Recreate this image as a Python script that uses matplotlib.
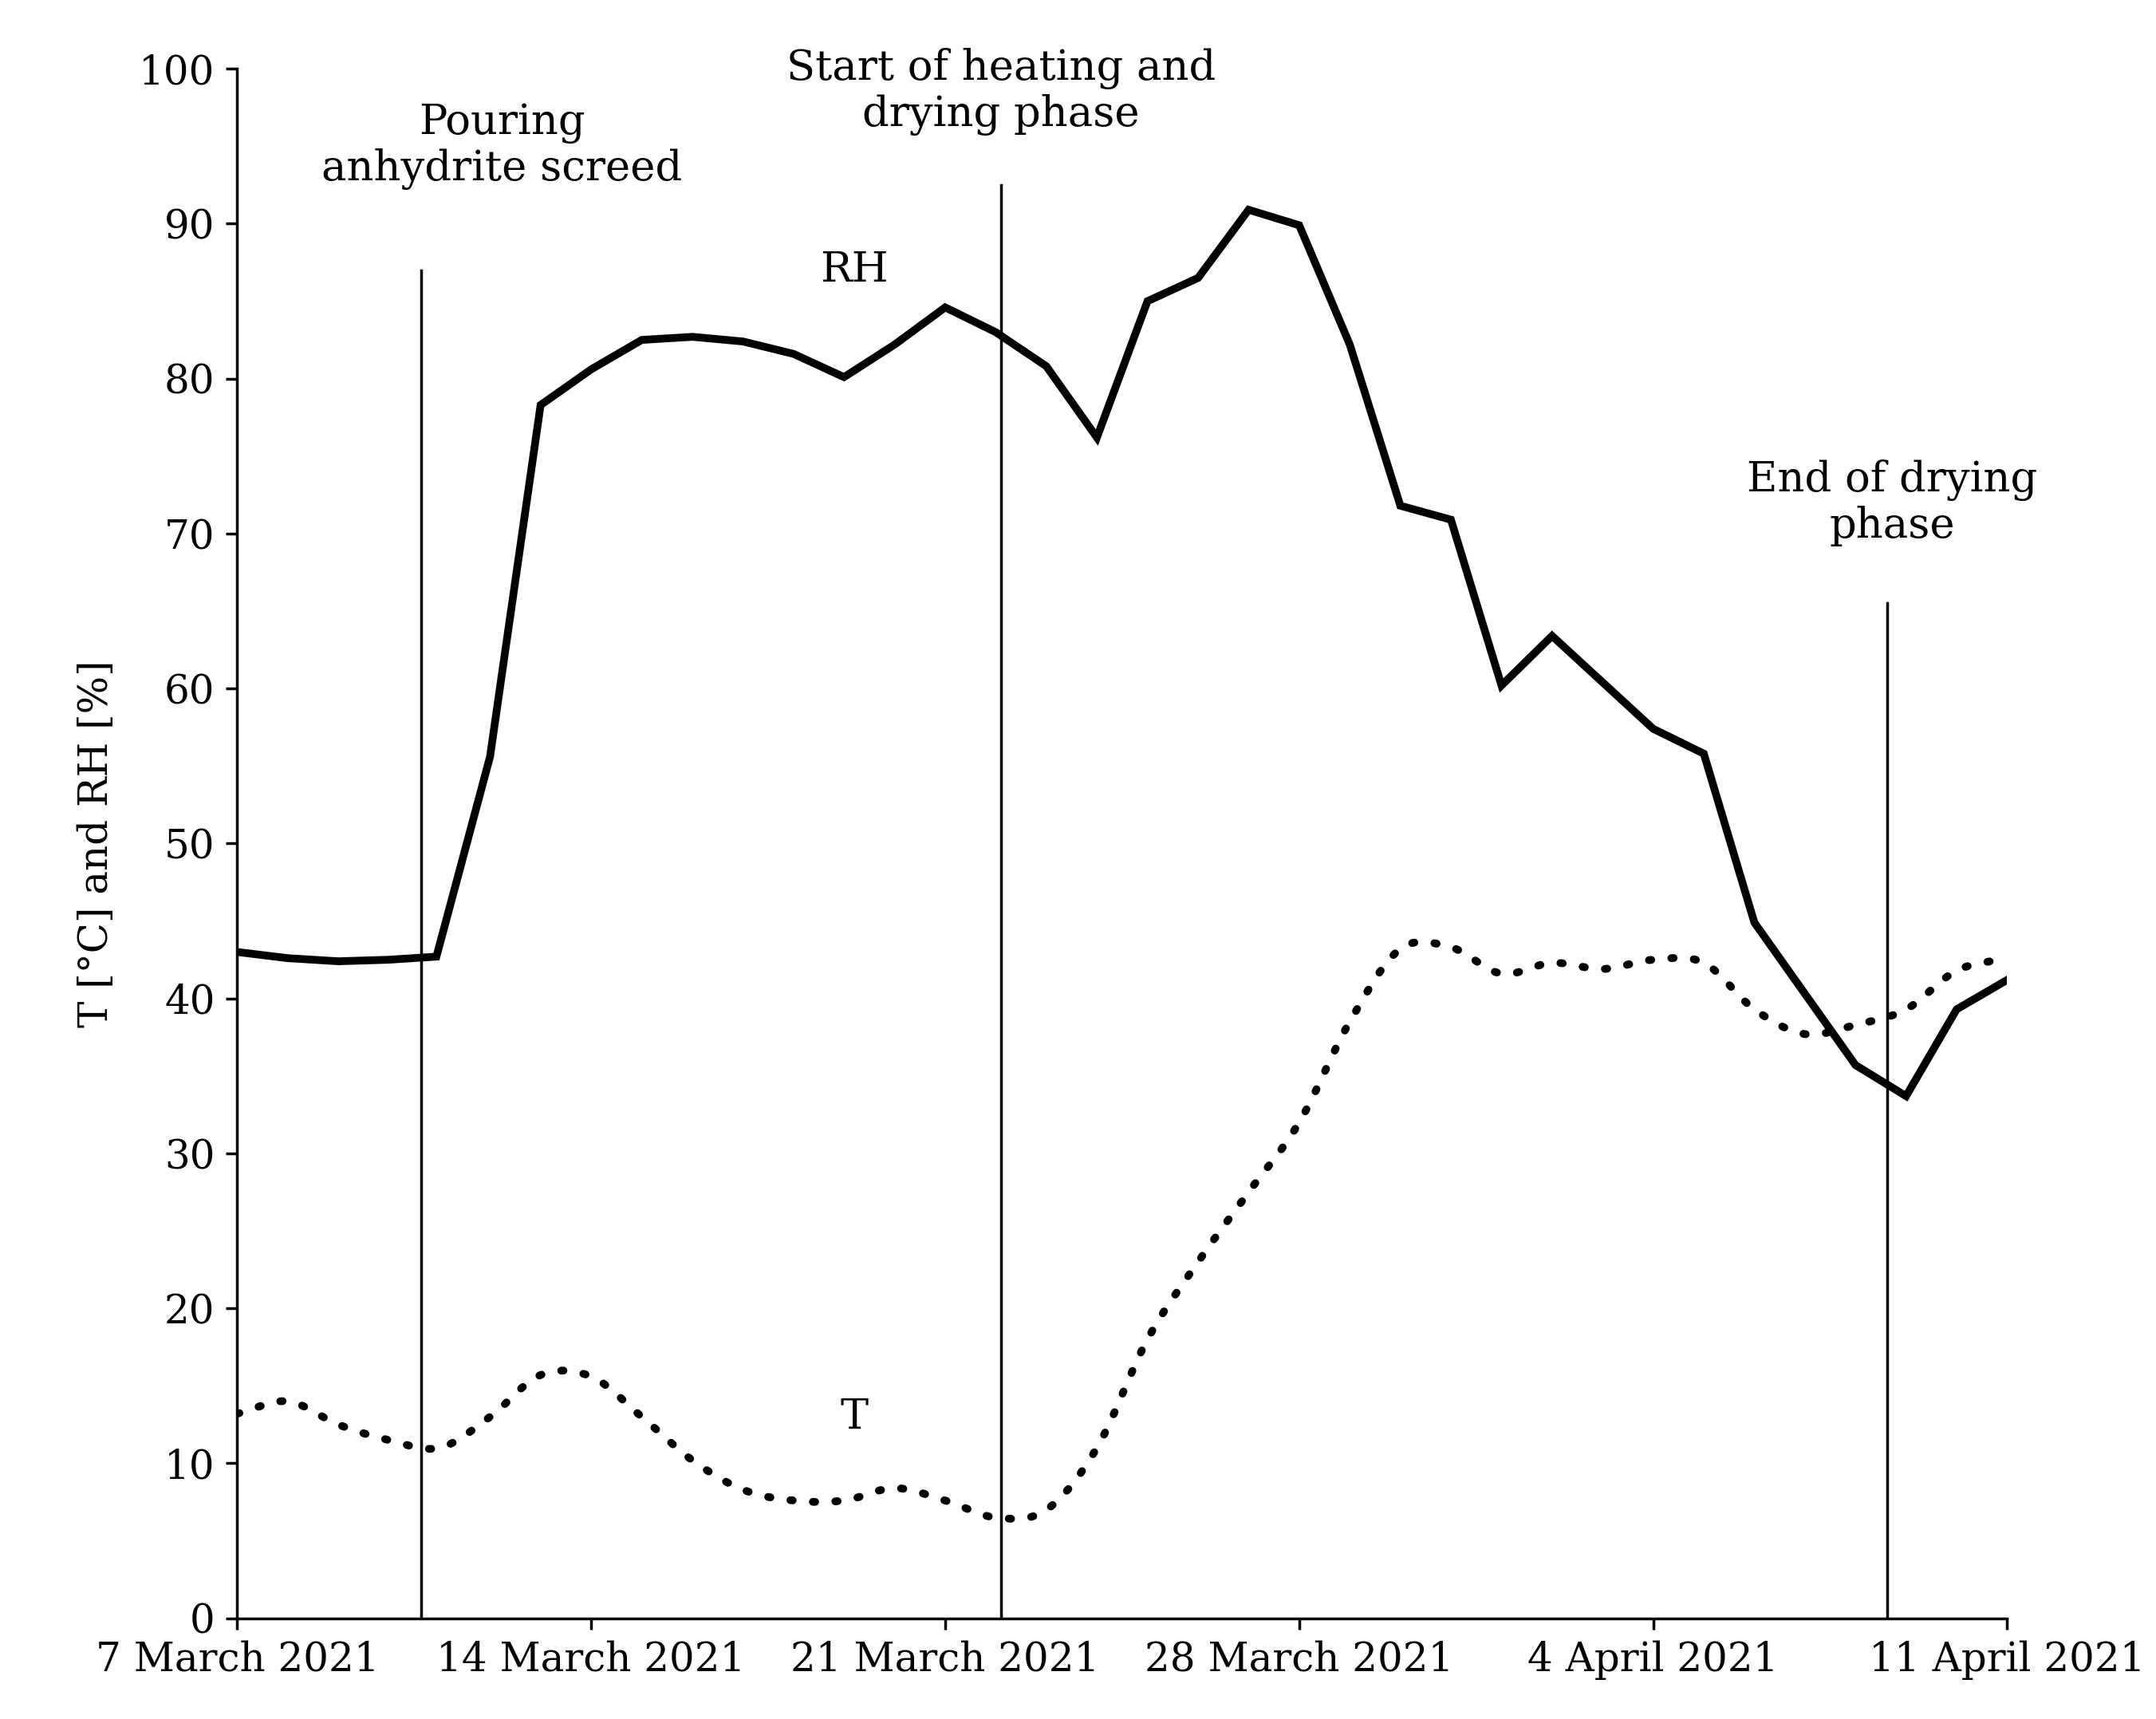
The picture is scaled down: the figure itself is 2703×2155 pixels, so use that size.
import matplotlib
matplotlib.use("Agg")
import matplotlib.pyplot as plt
import numpy as np

days = list(range(36))
rh = [43.0,42.6,42.4,42.5,42.7,55.6,78.3,80.6,82.5,82.7,82.4,81.6,80.1,82.2,84.6,83.0,80.8,76.2,
      85.0,86.5,90.9,89.9,82.2,71.8,70.9,60.2,63.4,60.4,57.4,55.8,44.9,40.3,35.7,33.7,39.3,41.2]
rh_days = [0,1,2,3,3.94] + list(range(5,36))
t = [13.2,14.0,12.5,11.5,11.0,13.0,15.7,15.6,13.0,10.2,8.3,7.6,7.6,8.4,7.6,6.5,7.0,11.0,18.0,23.0,
     27.5,32.0,38.5,43.2,43.3,41.6,42.3,41.9,42.5,42.3,39.3,37.7,38.3,39.3,41.8,42.6]
xtick_pos = [0,7,14,21,28,35]
xtick_labels = ["7 March 2021","14 March 2021","21 March 2021","28 March 2021","4 April 2021","11 April 2021"]
events = [(3.64, 87, "Pouring\nanhydrite screed"), (15.1, 92.5, "Start of heating and\ndrying phase"),
          (32.62, 65.5, "End of drying\nphase")]

plt.rcParams['font.family'] = ['DejaVu Serif']
fs = 36
fig = plt.figure(figsize=(27.03, 21.55), dpi=100)
ax = fig.add_axes([0.110, 0.0586, 0.821, 0.9014])

xd = np.array(days, float); yd = np.array(t)
m = np.gradient(yd, xd)
xs, ys = [], []
for i in range(len(xd)-1):
    s = np.linspace(0, 1, 20, endpoint=False)
    h00 = 2*s**3-3*s**2+1; h10 = s**3-2*s**2+s; h01 = -2*s**3+3*s**2; h11 = s**3-s**2
    xs.extend(xd[i]+s); ys.extend(h00*yd[i]+h10*m[i]+h01*yd[i+1]+h11*m[i+1])
xs.append(xd[-1]); ys.append(yd[-1])
ax.plot(xs, ys, color='black', lw=7, linestyle=(0, (0.3, 2.6)), dash_capstyle='round')
ax.plot(rh_days, rh, color='black', lw=7, solid_joinstyle='miter')

for x, top, label in events:
    ax.plot([x, x], [0, top], color='black', lw=2.5)
ax.text(3.64+1.6, 95, events[0][2], ha='center', va='center', fontsize=fs+2, linespacing=1.15)
ax.text(15.1, 98.5, events[1][2], ha='center', va='center', fontsize=fs+2, linespacing=1.15)
ax.text(32.62+0.1, 72, events[2][2], ha='center', va='center', fontsize=fs+2, linespacing=1.15)
ax.text(12.2, 87, "RH", ha='center', va='center', fontsize=fs+2)
ax.text(12.2, 13, "T", ha='center', va='center', fontsize=fs+2)

ax.set_xlim(0, 35); ax.set_ylim(0, 100)
ax.set_xticks(xtick_pos); ax.set_xticklabels(xtick_labels)
ax.set_yticks(range(0, 101, 10))
ax.tick_params(labelsize=fs, width=2.5, length=10, direction='out', pad=10)
for s in ['top', 'right']:
    ax.spines[s].set_visible(False)
for s in ['left', 'bottom']:
    ax.spines[s].set_linewidth(2.5)
ax.set_ylabel("T [°C] and RH [%]", fontsize=fs, labelpad=20)
fig.savefig("out.png", dpi=100)
